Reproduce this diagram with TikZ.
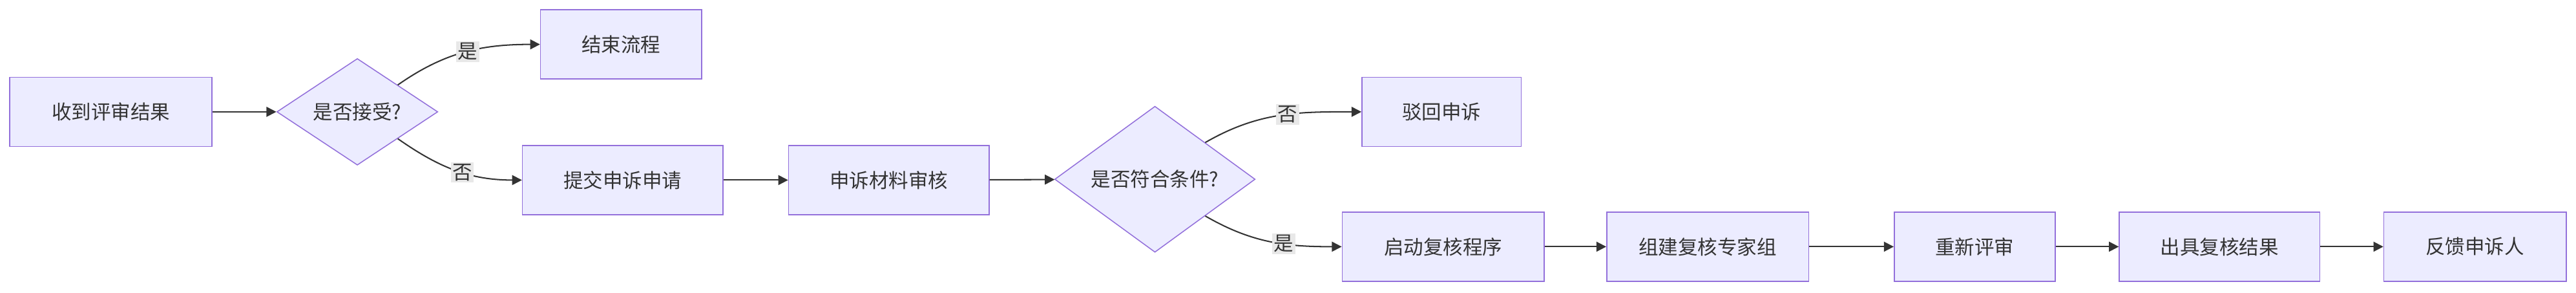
\documentclass[tikz,border=0pt]{standalone}
\usepackage{fontspec}
\setmainfont{Noto Sans CJK SC}
\usetikzlibrary{arrows.meta}
\usetikzlibrary{shapes.geometric}
\definecolor{bx}{HTML}{ECECFF}
\definecolor{bd}{HTML}{9370DB}
\definecolor{ln}{HTML}{333333}
\definecolor{lb}{HTML}{E8E8E8}
\tikzset{
  box/.style = {draw=bd, fill=bx, line width=0.6pt, minimum height=42pt, inner sep=0pt, text=ln, font=\fontsize{12}{14}\selectfont},
  dec/.style = {draw=bd, fill=bx, line width=0.6pt, diamond, aspect=1, inner sep=0pt, text=ln, font=\fontsize{12}{14}\selectfont},
  flow/.style = {draw=ln, line width=0.8pt, -{Triangle[length=6pt, width=6pt]}},
  tag/.style = {fill=lb, text=ln, inner sep=1pt, font=\fontsize{12}{14}\selectfont}
}
\begin{document}
\begin{tikzpicture}[x=1pt, y=1pt]
  \useasboundingbox (0,0) rectangle (1568,178);

  % nodes
  \node[box, minimum width=123pt] (recv) at (67.5,110) {收到评审结果};
  \node[dec, minimum width=98pt] (accept) at (217.5,110) {是否接受?};
  \node[box, minimum width=98pt] (finish) at (378,151) {结束流程};
  \node[box, minimum width=122pt] (submit) at (379,68.5) {提交申诉申请};
  \node[box, minimum width=122pt] (review) at (541,68.5) {申诉材料审核};
  \node[dec, minimum width=122pt] (valid) at (703,69) {是否符合条件?};
  \node[box, minimum width=97pt] (reject) at (877.5,110) {驳回申诉};
  \node[box, minimum width=123pt] (start) at (878.5,28) {启动复核程序};
  \node[box, minimum width=123pt] (panel) at (1039.5,28) {组建复核专家组};
  \node[box, minimum width=98pt] (again) at (1202,28) {重新评审};
  \node[box, minimum width=122pt] (result) at (1351,28) {出具复核结果};
  \node[box, minimum width=111pt] (notify) at (1506.5,28) {反馈申诉人};

  % connectors
  \draw[flow] (recv) -- (accept);
  \draw[flow] (accept.north east) to[out=35, in=180] node[tag, pos=0.52] {是} (finish.west);
  \draw[flow] (accept.south east) to[out=-35, in=180] node[tag, pos=0.55] {否} (submit.west);
  \draw[flow] (submit) -- (review);
  \draw[flow] (review) -- (valid);
  \draw[flow] (valid.north east) to[out=30, in=180] node[tag, pos=0.55] {否} (reject.west);
  \draw[flow] (valid.south east) to[out=-30, in=180] node[tag, pos=0.6] {是} (start.west);
  \draw[flow] (start) -- (panel);
  \draw[flow] (panel) -- (again);
  \draw[flow] (again) -- (result);
  \draw[flow] (result) -- (notify);
\end{tikzpicture}
\end{document}
